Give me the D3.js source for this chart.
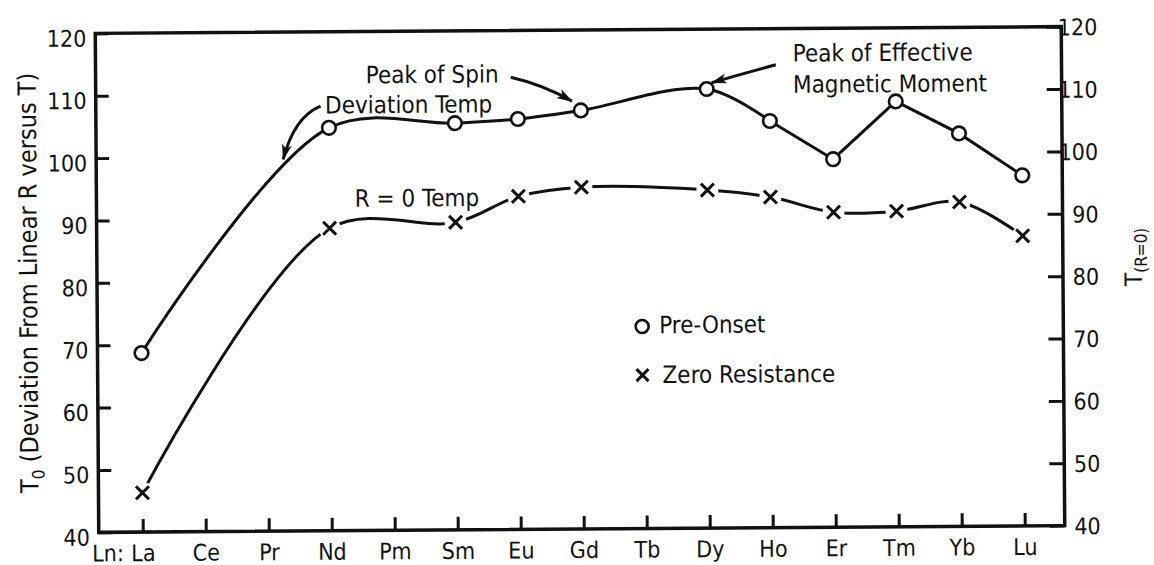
<!DOCTYPE html>
<html>
<head>
<meta charset="utf-8">
<script src="https://cdn.jsdelivr.net/npm/d3@7"></script>
<style>
  html, body { margin: 0; padding: 0; background: #fff; }
  svg text {
    font-family: "Liberation Sans Narrow", "DejaVu Sans Condensed", "Liberation Sans", Arial, sans-serif;
    fill: #111;
  }
</style>
</head>
<body>
<svg id="chart" width="1154" height="565"></svg>
<script>
// Lanthanide series along the x axis
const categories = ["La", "Ce", "Pr", "Nd", "Pm", "Sm", "Eu", "Gd", "Tb", "Dy", "Ho", "Er", "Tm", "Yb", "Lu"];
// Elements with measurements
const measuredElements = ["La", "Nd", "Sm", "Eu", "Gd", "Dy", "Ho", "Er", "Tm", "Yb", "Lu"];
// Pre-onset temperature T0 (deviation from linear R versus T), K
const preOnsetTemps = [68.7, 104.6, 105.2, 105.8, 107.1, 110.4, 105.2, 99.0, 108.2, 103.0, 96.2];
// Zero-resistance temperature T(R=0), K
const zeroResistanceTemps = [46.3, 88.5, 89.3, 93.4, 94.8, 94.2, 93.0, 90.5, 90.6, 92.0, 86.5];
// Tick values for both temperature axes
const leftTicks = [40, 50, 60, 70, 80, 90, 100, 110, 120];
const rightTicks = [40, 50, 60, 70, 80, 90, 100, 110, 120];

const svg = d3.select("#chart");
const plot = { left: 97, right: 1063, top: 30, bottom: 529 };

const x = d3.scalePoint().domain(categories).range([141, 1023]);
// fractional position along the element axis, used to place annotations
const xi = d3.scaleLinear().domain([0, categories.length - 1]).range(x.range());
const y = d3.scaleLinear().domain([40, 120]).range([plot.bottom, plot.top]);

// the whole figure sits slightly tilted on the page
const g = svg.append("g").attr("transform", "rotate(-0.4,580,280)");

// frame
g.append("rect")
  .attr("x", plot.left).attr("y", plot.top)
  .attr("width", plot.right - plot.left).attr("height", plot.bottom - plot.top)
  .attr("fill", "none").attr("stroke", "#111").attr("stroke-width", 3.5);

// left axis
const leftAxis = g.append("g")
  .attr("transform", `translate(${plot.left},0)`)
  .call(d3.axisLeft(y).tickValues(leftTicks).tickSize(-13).tickPadding(9).tickFormat(d3.format("d")));
leftAxis.select(".domain").remove();
leftAxis.selectAll(".tick line").attr("stroke", "#111").attr("stroke-width", 3);
leftAxis.selectAll(".tick text").attr("font-size", 23).attr("dy", "0.55em").style("font-family", null);

// right axis
const rightAxis = g.append("g")
  .attr("transform", `translate(${plot.right},0)`)
  .call(d3.axisRight(y).tickValues(rightTicks).tickSize(-15).tickFormat(d3.format("d")));
rightAxis.select(".domain").remove();
rightAxis.selectAll(".tick line").attr("stroke", "#111").attr("stroke-width", 3);
rightAxis.selectAll(".tick text").attr("font-size", 23).attr("x", 36).attr("dy", "0.36em")
  .attr("text-anchor", "end").style("font-family", null);

// bottom axis
const bottomAxis = g.append("g")
  .attr("transform", `translate(0,${plot.bottom})`)
  .call(d3.axisBottom(x).tickSize(-13));
bottomAxis.select(".domain").remove();
bottomAxis.selectAll(".tick line").attr("stroke", "#111").attr("stroke-width", 3);
bottomAxis.selectAll(".tick text").attr("font-size", 23).attr("y", 29).attr("dy", 0).style("font-family", null);
g.append("text")
  .attr("x", x("La") - 19).attr("y", plot.bottom + 29)
  .attr("text-anchor", "end").attr("font-size", 23)
  .text("Ln:");

// axis titles
const leftTitle = g.append("text")
  .attr("transform", `translate(37,279) rotate(-90)`)
  .attr("text-anchor", "middle").attr("font-size", 25);
leftTitle.append("tspan").text("T");
leftTitle.append("tspan").attr("font-size", 17).attr("dy", 6).text("0");
leftTitle.append("tspan").attr("dy", -6).text(" (Deviation From Linear R versus T)");

const rightTitle = g.append("text")
  .attr("transform", `translate(1142,${y(83)}) rotate(-90)`)
  .attr("text-anchor", "middle").attr("font-size", 24);
rightTitle.append("tspan").text("T");
rightTitle.append("tspan").attr("font-size", 17).attr("dy", 5).text("(R=0)");

// series
const pre = measuredElements.map((el, i) => ({ el, t: preOnsetTemps[i] }));
const zero = measuredElements.map((el, i) => ({ el, t: zeroResistanceTemps[i] }));

const rounded = d3.line().x(d => x(d.el)).y(d => y(d.t)).curve(d3.curveCatmullRom.alpha(0.5));
const straight = d3.line().x(d => x(d.el)).y(d => y(d.t));
const drawLine = d => g.append("path").attr("d", d)
  .attr("fill", "none").attr("stroke", "#111").attr("stroke-width", 3);

// pre-onset: smooth rise up to Ho, straight zig-zag afterwards
const hoIndex = measuredElements.indexOf("Ho");
drawLine(rounded(pre.slice(0, hoIndex + 1)));
drawLine(straight(pre.slice(hoIndex)));

// zero resistance: one smooth curve
drawLine(rounded(zero));

// x markers with a small clear gap around them
const cross = (sel, r) => sel.append("path")
  .attr("d", `M${-r},${-r}L${r},${r}M${-r},${r}L${r},${-r}`)
  .attr("stroke", "#111").attr("stroke-width", 3).attr("fill", "none");

const zeroMarks = g.selectAll(".zero").data(zero).join("g")
  .attr("class", "zero")
  .attr("transform", d => `translate(${x(d.el)},${y(d.t)})`);
zeroMarks.append("circle").attr("r", 11).attr("fill", "#fff");
cross(zeroMarks, 6.5);

g.selectAll(".pre").data(pre).join("circle")
  .attr("class", "pre")
  .attr("cx", d => x(d.el)).attr("cy", d => y(d.t))
  .attr("r", 6.8).attr("fill", "#fff").attr("stroke", "#111").attr("stroke-width", 2.6);

// annotations
svg.append("defs").append("marker")
  .attr("id", "head").attr("viewBox", "0 0 16 10")
  .attr("refX", 15).attr("refY", 5)
  .attr("markerWidth", 16).attr("markerHeight", 10)
  .attr("markerUnits", "userSpaceOnUse").attr("orient", "auto")
  .append("path").attr("d", "M0,0L16,5L0,10L4,5Z").attr("fill", "#111");

const label = (idx, t, text) => g.append("text")
  .attr("x", xi(idx)).attr("y", y(t)).attr("font-size", 24).text(text);
const arrow = (p0, c, p1) => g.append("path")
  .attr("d", `M${xi(p0[0])},${y(p0[1])}Q${xi(c[0])},${y(c[1])} ${xi(p1[0])},${y(p1[1])}`)
  .attr("fill", "none").attr("stroke", "#111").attr("stroke-width", 3)
  .attr("marker-end", "url(#head)");

label(3.59, 111.7, "Peak of Spin");
arrow([5.89, 112.5], [6.4, 111.3], [6.86, 108.6]);

label(2.94, 106.9, "Deviation Temp");
arrow([2.87, 108.1], [2.45, 106.4], [2.27, 99.6]);

label(10.37, 114.7, "Peak of Effective");
label(10.37, 109.7, "Magnetic Moment");
arrow([10.1, 114.2], [9.6, 112.9], [9.08, 111.4]);

label(3.40, 91.9, "R = 0 Temp");

// legend
const legend = g.append("g");
legend.append("circle")
  .attr("cx", xi(7.95)).attr("cy", y(72.4))
  .attr("r", 6.5).attr("fill", "#fff").attr("stroke", "#111").attr("stroke-width", 2.6);
legend.append("text").attr("x", xi(7.95) + 17).attr("y", y(71.3)).attr("font-size", 24).text("Pre-Onset");
const legendCross = legend.append("g").attr("transform", `translate(${xi(7.95)},${y(64.6)})`);
cross(legendCross, 6);
legend.append("text").attr("x", xi(7.95) + 20).attr("y", y(63.3)).attr("font-size", 24).text("Zero Resistance");
</script>
</body>
</html>
